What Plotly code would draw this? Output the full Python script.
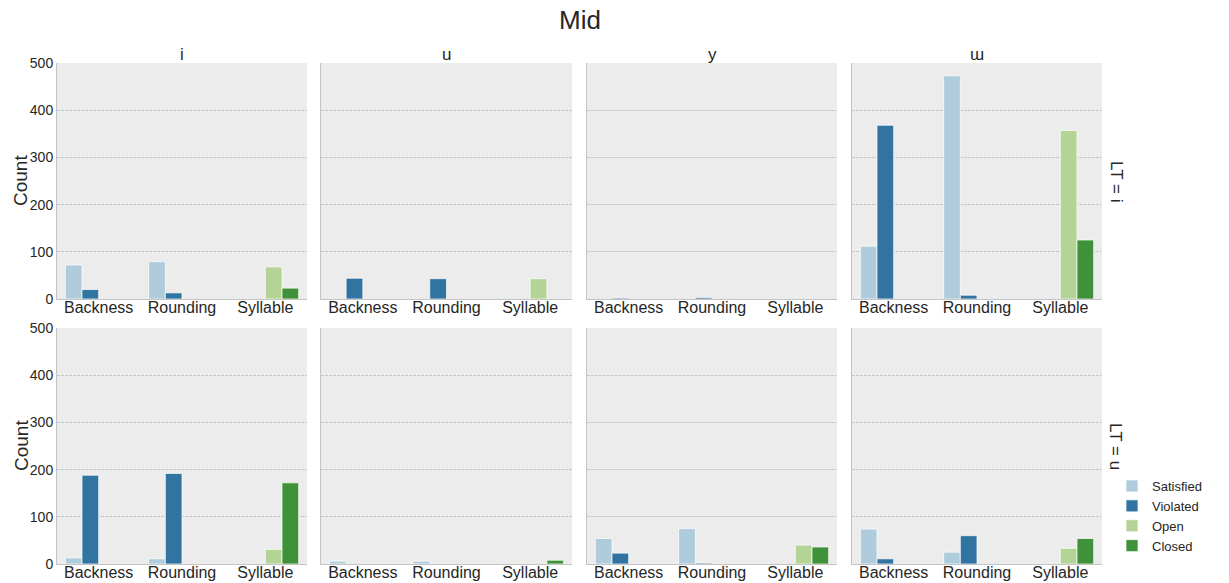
import plotly.graph_objects as go

categories = ["Backness", "Rounding", "Syllable"]
col_labels = ["i", "u", "y", "ɯ"]
row_labels = ["LT = i", "LT = u"]
hue_names = ["Satisfied", "Violated", "Open", "Closed"]
hue_colors = ["#aeccdb", "#3274a1", "#b3d495", "#40923a"]
y_ticks = [0, 100, 200, 300, 400, 500]

# values per column (i, u, y, ɯ): [Backness, Rounding, Syllable]
sat_LT_i = [[72, 79, None], [None, None, None], [None, None, None], [112, 473, None]]
vio_LT_i = [[20, 13, None], [44, 43, None], [2, 3, None], [368, 8, None]]
open_LT_i = [[None, None, 68], [None, None, 43], [None, None, 2], [None, None, 357]]
closed_LT_i = [[None, None, 23], [None, None, None], [None, None, None], [None, None, 125]]

sat_LT_u = [[13, 11, None], [6, 6, None], [54, 75, None], [74, 25, None]]
vio_LT_u = [[188, 192, None], [None, None, None], [23, 2, None], [11, 60, None]]
open_LT_u = [[None, None, 31], [None, None, None], [None, None, 40], [None, None, 33]]
closed_LT_u = [[None, None, 172], [None, None, 8], [None, None, 36], [None, None, 54]]

data_rows = [
    [sat_LT_i, vio_LT_i, open_LT_i, closed_LT_i],
    [sat_LT_u, vio_LT_u, open_LT_u, closed_LT_u],
]

W, H = 1229, 583
col_px = [(57, 307), (321, 572), (587, 837), (852, 1102)]
row_px = [(63, 299), (328, 564)]

fig = go.Figure()
FONT = "Liberation Sans, Arial, sans-serif"
TXT = "#262626"

layout_axes = {}
idx = 0
for r in range(2):
    for c in range(4):
        idx += 1
        xa = "x" if idx == 1 else f"x{idx}"
        ya = "y" if idx == 1 else f"y{idx}"
        for h in range(4):
            fig.add_trace(go.Bar(
                x=categories, y=data_rows[r][h][c], name=hue_names[h],
                marker=dict(color=hue_colors[h], line=dict(color="rgba(255,255,255,0.7)", width=1)),
                xaxis=xa, yaxis=ya, legendgroup=hue_names[h],
                showlegend=(idx == 1),
            ))
        xk = "xaxis" if idx == 1 else f"xaxis{idx}"
        yk = "yaxis" if idx == 1 else f"yaxis{idx}"
        x0, x1 = col_px[c]
        y0, y1 = row_px[r]
        layout_axes[xk] = dict(
            domain=[x0 / W, x1 / W], anchor=ya, type="category", automargin=False,
            range=[-0.5, 2.5], showgrid=False, showline=True, linecolor="#c4c4c4",
            linewidth=1, ticks="", tickfont=dict(size=16, color=TXT, family=FONT),
            ticklabelstandoff=-6, zeroline=False,
        )
        layout_axes[yk] = dict(
            domain=[1 - y1 / H, 1 - y0 / H], anchor=xa, range=[0, 500], automargin=False,
            tickvals=y_ticks, showticklabels=(c == 0), showgrid=True,
            gridcolor="#c8c8c8", griddash="3px,1px", gridwidth=1,
            showline=True, linecolor="#c4c4c4", linewidth=1, ticks="",
            tickfont=dict(size=14, color=TXT, family=FONT), ticklabelstandoff=0,
            zeroline=False,
        )

annotations = []
for c, lab in enumerate(col_labels):
    x0, x1 = col_px[c]
    annotations.append(dict(text=lab, x=(x0 + x1) / 2 / W, y=1 - 54 / H, xref="paper", yref="paper",
                            showarrow=False, font=dict(size=17, color=TXT, family=FONT),
                            xanchor="center", yanchor="middle"))
for r, lab in enumerate(row_labels):
    y0, y1 = row_px[r]
    annotations.append(dict(text=lab, x=1116 / W, y=1 - (y0 + y1) / 2 / H, xref="paper", yref="paper",
                            showarrow=False, textangle=90, font=dict(size=17, color=TXT, family=FONT),
                            xanchor="center", yanchor="middle"))
    annotations.append(dict(text="Count", x=21 / W, y=1 - (y0 + y1) / 2 / H, xref="paper", yref="paper",
                            showarrow=False, textangle=-90, font=dict(size=19, color=TXT, family=FONT),
                            xanchor="center", yanchor="middle"))

fig.update_layout(
    width=W, height=H, margin=dict(l=0, r=0, t=0, b=0),
    paper_bgcolor="white", plot_bgcolor="#ececec",
    barmode="group", bargap=0.2, bargroupgap=0,
    title=dict(text="Mid", x=580 / W, xanchor="center", y=1 - 20 / H, yanchor="middle",
               font=dict(size=26, color=TXT, family=FONT)),
    legend=dict(x=1112 / W, y=1 - 471 / H, xanchor="left", yanchor="top",
                font=dict(size=13, color=TXT, family=FONT), tracegroupgap=0,
                itemwidth=30, bgcolor="rgba(0,0,0,0)"),
    annotations=annotations,
    font=dict(family=FONT, color=TXT),
    **layout_axes,
)

fig.write_html("out.html")
